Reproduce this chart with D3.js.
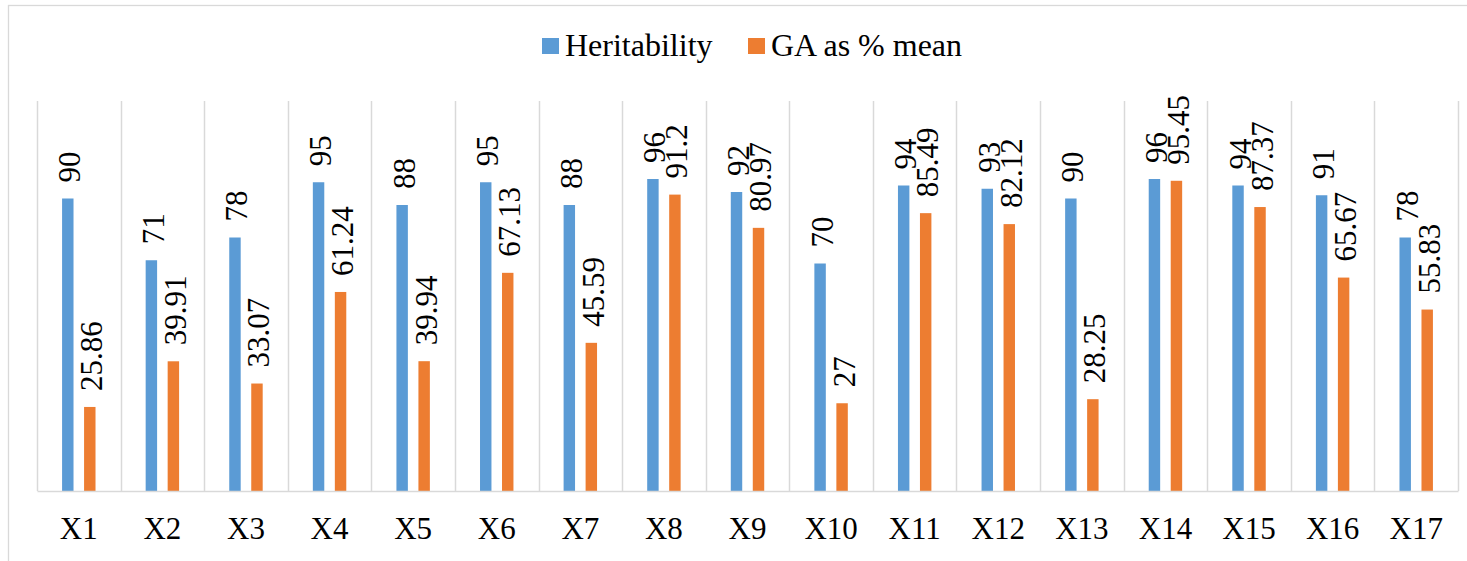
<!DOCTYPE html>
<html>
<head>
<meta charset="utf-8">
<script src="https://cdn.jsdelivr.net/npm/d3@7"></script>
<style>
  html, body { margin: 0; padding: 0; background: #fff; }
  svg { display: block; }
  text { font-family: "Liberation Serif", "Times New Roman", serif; fill: #000; }
</style>
</head>
<body>
<svg id="chart" width="1467" height="561"></svg>
<script>
const categories = ["X1","X2","X3","X4","X5","X6","X7","X8","X9","X10","X11","X12","X13","X14","X15","X16","X17"];
const heritability = [90,71,78,95,88,95,88,96,92,70,94,93,90,96,94,91,78];
const gaMean = [25.86,39.91,33.07,61.24,39.94,67.13,45.59,91.2,80.97,27,85.49,82.12,28.25,95.45,87.37,65.67,55.83];
const seriesNames = ["Heritability", "GA as % mean"];
const seriesLabels = [
  ["90","71","78","95","88","95","88","96","92","70","94","93","90","96","94","91","78"],
  ["25.86","39.91","33.07","61.24","39.94","67.13","45.59","91.2","80.97","27","85.49","82.12","28.25","95.45","87.37","65.67","55.83"]
];
const yDomain = [0, 120];

const colors = ["#5b9bd5", "#ed7d31"];
const seriesValues = [heritability, gaMean];
const serif = '"Liberation Serif", "Times New Roman", serif';

const svg = d3.select("#chart");
const W = 1467, H = 561;
const plot = { left: 37, right: 1458, top: 101, bottom: 491 };

// outer chart border
svg.append("rect")
  .attr("x", 8.5).attr("y", 5.5)
  .attr("width", W + 10).attr("height", H + 10)
  .attr("fill", "none").attr("stroke", "#d9d9d9").attr("stroke-width", 1.3);

const x0 = d3.scaleBand().domain(categories).range([plot.left, plot.right]).padding(0);
const x1 = d3.scaleBand().domain([0, 1]).range([0, x0.bandwidth()]).paddingInner(0.48).paddingOuter(1.14);
const y = d3.scaleLinear().domain(yDomain).range([plot.bottom, plot.top]);

// vertical gridlines at category boundaries
const bounds = categories.map(c => x0(c)).concat([x0(categories[categories.length - 1]) + x0.bandwidth()]);
svg.append("g").selectAll("line").data(bounds).join("line")
  .attr("x1", d => Math.round(d) + 0.5).attr("x2", d => Math.round(d) + 0.5)
  .attr("y1", plot.top).attr("y2", plot.bottom)
  .attr("stroke", "#d9d9d9").attr("stroke-width", 1.5);

// bars
const gCat = svg.append("g").selectAll("g").data(categories).join("g")
  .attr("transform", d => `translate(${x0(d)},0)`);

seriesValues.forEach((vals, s) => {
  gCat.append("rect")
    .attr("x", (d, i) => x1(s))
    .attr("width", x1.bandwidth())
    .attr("y", (d, i) => y(vals[i]))
    .attr("height", (d, i) => y(0) - y(vals[i]))
    .attr("fill", colors[s]);
});

// baseline (x axis)
const xAxis = d3.axisBottom(x0).tickSize(0).tickPadding(0);
const axG = svg.append("g").attr("transform", `translate(0,${plot.bottom})`).call(xAxis);
axG.select(".domain").attr("stroke", "#d9d9d9").attr("stroke-width", 1.5);
axG.selectAll(".tick text")
  .attr("y", 48).attr("dy", 0)
  .style("font-family", serif)
  .style("font-size", "31px").attr("fill", "#000");

// data labels (rotated)
seriesValues.forEach((vals, s) => {
  gCat.append("text")
    .attr("transform", (d, i) => {
      const cx = x1(s) + x1.bandwidth() / 2;
      return `translate(${cx},${y(vals[i]) - 16}) rotate(-90)`;
    })
    .attr("x", 0).attr("y", 12.5)
    .attr("text-anchor", "start")
    .style("font-family", serif)
    .style("font-size", "31px")
    .text((d, i) => seriesLabels[s][i]);
});

// legend
const legend = svg.append("g");
const legendItems = [
  { name: seriesNames[0], color: colors[0], x: 542 },
  { name: seriesNames[1], color: colors[1], x: 748 }
];
legendItems.forEach(it => {
  legend.append("rect").attr("x", it.x).attr("y", 38).attr("width", 17).attr("height", 16).attr("fill", it.color);
  legend.append("text").attr("x", it.x + 23).attr("y", 56).style("font-family", serif).style("font-size", "32px").text(it.name);
});
</script>
</body>
</html>
